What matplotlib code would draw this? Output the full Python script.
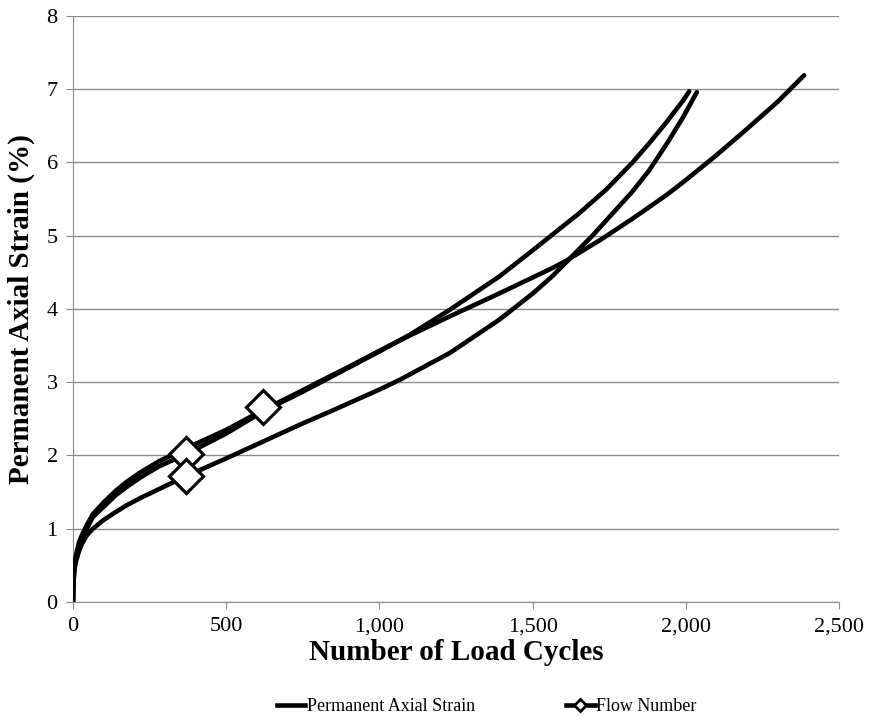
import matplotlib.pyplot as plt
from matplotlib.lines import Line2D
from matplotlib.ticker import FuncFormatter

plt.rcParams['font.family'] = ['Liberation Serif', 'DejaVu Serif']

# strain curves (cycles, % strain)
cycles_a = [0, 1, 5, 10, 20, 30, 45, 65, 100, 140, 175, 220, 280, 370, 500, 620, 740,
            800, 900, 1000, 1100, 1230, 1390, 1500, 1560, 1650, 1740, 1826, 1880,
            1935, 1990, 2011]
strain_a = [0, 0.25, 0.50, 0.60, 0.78, 0.88, 1.00, 1.16, 1.30, 1.46, 1.57, 1.70, 1.85,
            2.02, 2.30, 2.60, 2.85, 2.98, 3.20, 3.42, 3.65, 3.99, 4.44, 4.80, 5.00,
            5.30, 5.63, 6.00, 6.26, 6.54, 6.84, 6.97]

cycles_b = [0, 1, 5, 10, 20, 30, 45, 65, 100, 140, 175, 220, 280, 370, 500, 620, 740,
            800, 900, 1000, 1100, 1230, 1390, 1565, 1610, 1720, 1825, 1935, 2000,
            2100, 2200, 2300, 2386]
strain_b = [0, 0.27, 0.55, 0.64, 0.82, 0.92, 1.05, 1.20, 1.36, 1.52, 1.64, 1.77, 1.92,
            2.10, 2.35, 2.62, 2.87, 3.00, 3.21, 3.43, 3.64, 3.90, 4.21, 4.56, 4.66,
            4.94, 5.23, 5.55, 5.76, 6.10, 6.46, 6.83, 7.19]

cycles_c = [0, 1, 5, 10, 20, 30, 45, 65, 100, 140, 175, 220, 280, 370, 500, 620, 740,
            850, 1000, 1065, 1230, 1390, 1500, 1565, 1610, 1695, 1760, 1825, 1880,
            1940, 1990, 2036]
strain_c = [0, 0.23, 0.45, 0.56, 0.70, 0.80, 0.91, 1.00, 1.12, 1.23, 1.32, 1.42, 1.54,
            1.72, 1.96, 2.19, 2.42, 2.62, 2.90, 3.03, 3.40, 3.85, 4.21, 4.45, 4.64,
            5.00, 5.30, 5.60, 5.89, 6.27, 6.61, 6.96]

# flow number points
fn_cycles = [370, 620, 370]
fn_strain = [2.02, 2.66, 1.72]

fig = plt.figure(figsize=(8.69, 7.17), dpi=100)
ax = fig.add_axes([0.084, 0.1604, 0.8815, 0.8173])

for x, y in [(cycles_b, strain_b), (cycles_a, strain_a), (cycles_c, strain_c)]:
    ax.plot(x, y, color='black', lw=3.3, solid_capstyle='round',
            solid_joinstyle='round', zorder=3)

ax.plot(fn_cycles, fn_strain, ls='none', marker='D', ms=17, mfc='white',
        mec='black', mew=2.3, zorder=4)

ax.set_xlim(0, 2500)
ax.set_ylim(0, 8)
ax.set_xticks([0, 500, 1000, 1500, 2000, 2500])
ax.set_yticks(range(0, 9))
ax.xaxis.set_major_formatter(FuncFormatter(lambda v, p: '{:,.0f}'.format(v)))
ax.grid(axis='y', color='#8c8c8c', lw=1)
ax.set_axisbelow(True)
for s in ['top', 'right']:
    ax.spines[s].set_visible(False)
for s in ['left', 'bottom']:
    ax.spines[s].set_color('#8c8c8c')
ax.tick_params(axis='both', direction='out', color='#8c8c8c', length=5,
               labelsize=16, pad=6)

ax.set_xlabel('Number of Load Cycles', fontsize=21, fontweight='bold', labelpad=2)
ax.set_ylabel('Permanent Axial Strain (%)', fontsize=21, fontweight='bold', labelpad=8)

h1 = Line2D([], [], color='black', lw=3.3)
h2 = Line2D([], [], color='black', lw=3.3, marker='D', ms=6, mfc='white', mec='black', mew=2)
fig.legend([h1, h2], ['Permanent Axial Strain', 'Flow Number'], loc='lower center',
           bbox_to_anchor=(0.56, -0.02), ncol=2, frameon=False, fontsize=13,
           handlelength=1.6, handletextpad=0.1, columnspacing=5)

fig.savefig('out.png', dpi=100)
